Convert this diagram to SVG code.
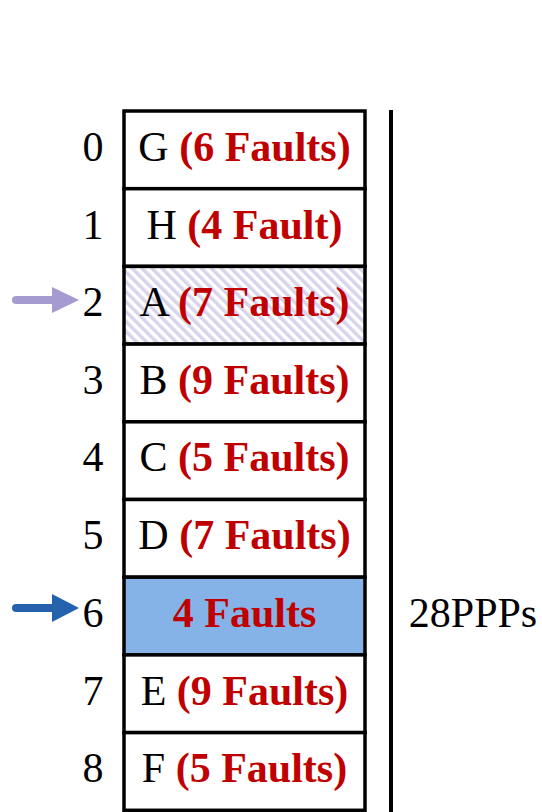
<svg xmlns="http://www.w3.org/2000/svg" width="542" height="812" viewBox="0 0 542 812">
  <style>
    .cell { fill: #ffffff; stroke: #000000; stroke-width: 3.5; }
    .idx { font-family: "Liberation Serif", "Times New Roman", serif; font-size: 42px; fill: #000000; text-anchor: middle; }
    .lbl { font-family: "Liberation Serif", "Times New Roman", serif; font-size: 42px; fill: #000000; text-anchor: middle; }
    .flt { font-weight: bold; fill: #C00000; }
  </style>
  <defs>
    <pattern id="hatch" width="7" height="7" patternUnits="userSpaceOnUse" patternTransform="rotate(-45)">
      <rect width="7" height="7" fill="#ffffff"/>
      <rect width="3.5" height="7" fill="#d8d4ec"/>
    </pattern>
  </defs>

  <!-- memory slots -->
  <g id="slot0"><rect class="cell" x="124" y="111" width="241" height="77.7"/>
    <text class="idx" x="93" y="161">0</text>
    <text class="lbl" x="244.5" y="161">G <tspan class="flt">(6 Faults)</tspan></text></g>
  <g id="slot1"><rect class="cell" x="124" y="188.7" width="241" height="77.7"/>
    <text class="idx" x="93" y="239">1</text>
    <text class="lbl" x="244.5" y="239">H <tspan class="flt">(4 Fault)</tspan></text></g>
  <g id="slot2"><rect class="cell" x="124" y="266.4" width="241" height="77.7" style="fill:url(#hatch)"/>
    <text class="idx" x="93" y="316">2</text>
    <text class="lbl" x="244.5" y="316">A <tspan class="flt">(7 Faults)</tspan></text></g>
  <g id="slot3"><rect class="cell" x="124" y="344.1" width="241" height="77.7"/>
    <text class="idx" x="93" y="394">3</text>
    <text class="lbl" x="244.5" y="394">B <tspan class="flt">(9 Faults)</tspan></text></g>
  <g id="slot4"><rect class="cell" x="124" y="421.8" width="241" height="77.7"/>
    <text class="idx" x="93" y="471">4</text>
    <text class="lbl" x="244.5" y="471">C <tspan class="flt">(5 Faults)</tspan></text></g>
  <g id="slot5"><rect class="cell" x="124" y="499.5" width="241" height="77.7"/>
    <text class="idx" x="93" y="549">5</text>
    <text class="lbl" x="244.5" y="549">D <tspan class="flt">(7 Faults)</tspan></text></g>
  <g id="slot6"><rect class="cell" x="124" y="577.2" width="241" height="77.7" style="fill:#85B2E7"/>
    <text class="idx" x="93" y="627">6</text>
    <text class="lbl flt" x="244.5" y="627">4 Faults</text></g>
  <g id="slot7"><rect class="cell" x="124" y="654.9" width="241" height="77.7"/>
    <text class="idx" x="93" y="705">7</text>
    <text class="lbl" x="244.5" y="705">E <tspan class="flt">(9 Faults)</tspan></text></g>
  <g id="slot8"><rect class="cell" x="124" y="732.6" width="241" height="77.7"/>
    <text class="idx" x="93" y="782">8</text>
    <text class="lbl" x="244.5" y="782">F <tspan class="flt">(5 Faults)</tspan></text></g>

  <!-- total bracket -->
  <g id="total">
    <line x1="391" y1="110" x2="391" y2="812" stroke="#000000" stroke-width="4"/>
    <text class="lbl" x="473" y="627">28PPPs</text>
  </g>

  <!-- pointers -->
  <g id="connectors">
    <g id="ptr-prev">
      <line x1="16" y1="300" x2="54" y2="300" stroke="#A69BD0" stroke-width="8" stroke-linecap="round"/>
      <polygon points="52,287 79,300 52,313" fill="#A69BD0"/>
    </g>
    <g id="ptr-cur">
      <line x1="16" y1="608" x2="54" y2="608" stroke="#2462AE" stroke-width="8" stroke-linecap="round"/>
      <polygon points="52,594 79,608 52,622" fill="#2462AE"/>
    </g>
  </g>
</svg>
